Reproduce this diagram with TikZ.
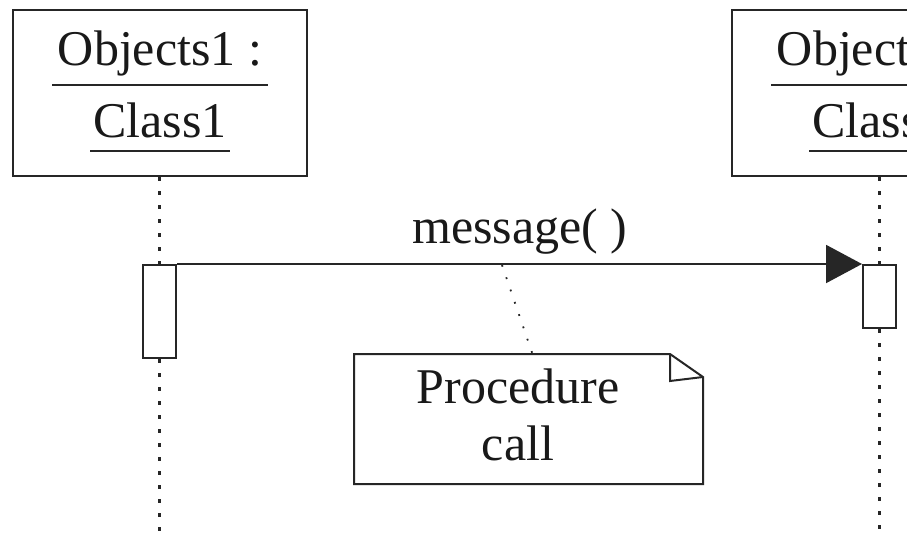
\documentclass[tikz,border=0pt]{standalone}
\usepackage{fontspec}
\setmainfont{Liberation Serif}
\usetikzlibrary{arrows.meta}
\begin{document}
\begin{tikzpicture}[x=1pt,y=-1pt,
  line width=2pt, draw=black!85,
  objbox/.style={draw, minimum width=294pt, minimum height=166pt, inner sep=0pt},
  actbox/.style={draw, fill=white, minimum width=33pt, inner sep=0pt},
  lbl/.style={font=\fontsize{50}{60}\selectfont, inner sep=0pt, anchor=base, text=black!90},
  uline/.style={line width=2pt},
  lifeline/.style={line width=2.2pt, dash pattern=on 3.5pt off 10.5pt},
  notelink/.style={line width=1.8pt, dash pattern=on 1.8pt off 11.2pt},
  msg/.style={-{Triangle[length=36pt,width=38pt]}, line width=2pt}
]
\clip (0,0) rectangle (907,533);
\fill[white] (0,0) rectangle (907,533);

% object boxes
\node[objbox] (o1) at (160,93) {};
\node[objbox] (o2) at (879,93) {};
\node[lbl] (o1a) at (160,65) {Objects1 :};
\node[lbl] (o1b) at (160,137) {Class1};
\node[lbl] (o2a) at (879,65) {Objects2 :};
\node[lbl] (o2b) at (879,137) {Class2};
\draw[uline] (52,85) -- (268,85);
\draw[uline] (90,151) -- (230,151);
\draw[uline] (771,85) -- (987,85);
\draw[uline] (809,151) -- (949,151);

% activation boxes
\node[actbox, minimum height=93pt] (a1) at (159.5,311.5) {};
\node[actbox, minimum height=63pt] (a2) at (879.5,296.5) {};

% lifelines
\coordinate (e1) at (159.5,533);
\coordinate (e2) at (879.5,533);
\draw[lifeline] (o1.south -| a1.north) -- (a1.north);
\draw[lifeline] (a1.south) -- (e1);
\draw[lifeline] (o2.south -| a2.north) -- (a2.north);
\draw[lifeline] (a2.south) -- (e2);

% message
\draw[msg] (a1.north east) -- (a2.north west);
\node[lbl] (mlab) at (520,243) {message( )};

% note
\node[minimum width=347pt, minimum height=128pt, inner sep=0pt] (n) at (528.5,419) {};
\draw (n.north west) -- ([xshift=-33pt]n.north east) -- ([yshift=-23pt]n.north east)
      -- (n.south east) -- (n.south west) -- cycle;
\draw ([xshift=-33pt]n.north east) -- ([xshift=-33pt,yshift=-27pt]n.north east)
      -- ([yshift=-23pt]n.north east);
\node[lbl] (n1) at (518,403) {Procedure};
\node[lbl] (n2) at (518,460) {call};

\coordinate (m) at (502,265);
\draw[notelink] (m) -- ([xshift=4pt]n.north);
\end{tikzpicture}
\end{document}
